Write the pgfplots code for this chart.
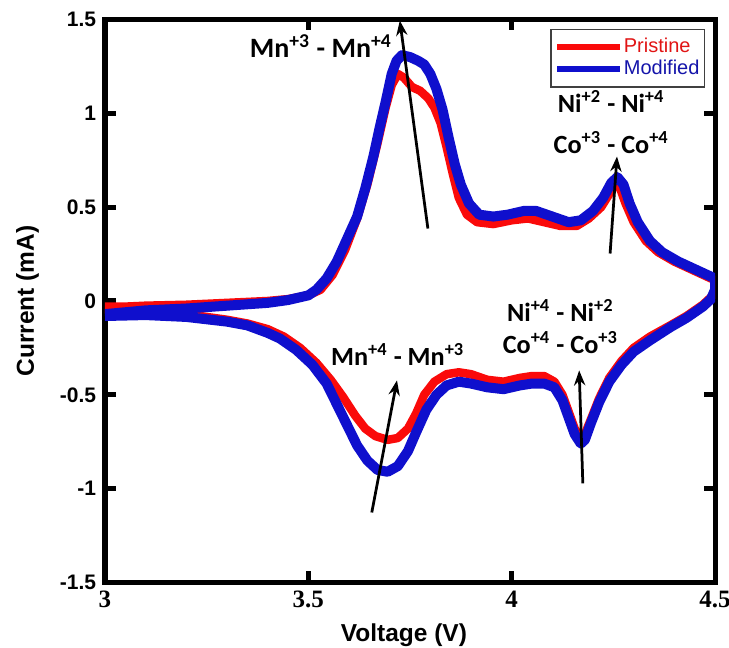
\documentclass[border=0pt]{standalone}
\usepackage{fontspec}
\setmainfont{Liberation Sans}
\newfontfamily\serifbf{Liberation Serif}
\newfontfamily\calib{Carlito}
\usepackage{pgfplots}
\pgfplotsset{compat=1.18}
\usetikzlibrary{arrows.meta}

\definecolor{pred}{RGB}{250,10,10}
\definecolor{pblue}{RGB}{15,15,205}
\definecolor{tred}{RGB}{225,20,20}
\definecolor{tblue}{RGB}{20,20,170}

\begin{document}
\begin{tikzpicture}
\begin{axis}[
    scale only axis,
    width=244pt, height=225.2pt,
    xmin=3, xmax=4.5, ymin=-1.5, ymax=1.5,
    xtick={3,3.5,4,4.5},
    ytick={-1.5,-1,-0.5,0,0.5,1,1.5},
    /pgf/number format/assume math mode=true,
    axis line style={line width=2pt},
    tick style={line width=2pt, black},
    major tick length=4.4pt,
    xticklabel style={font=\fontsize{10}{12}\serifbf\bfseries},
    yticklabel style={font=\fontsize{8.4}{10}\selectfont\bfseries},
    xlabel={Voltage (V)},
    ylabel={Current (mA)},
    xlabel style={at={(axis description cs:0.49,-0.093)}, anchor=center, font=\fontsize{9.8}{12}\selectfont\bfseries},
    ylabel style={at={(axis description cs:-0.127,0.5)}, anchor=center, font=\fontsize{9.8}{12}\selectfont\bfseries},
    legend style={at={(rel axis cs:0.984,0.984)}, anchor=north east,
        draw=black!75, line width=0.6pt, inner sep=1.5pt, row sep=-2.5pt,
        font=\fontsize{8}{9}\selectfont, nodes={inner xsep=0.5pt}},
    legend cell align=left,
    legend image code/.code={\draw[#1, line width=2.2pt] (0pt,0pt) -- (25pt,0pt);},
]
\addplot[pred, line width=3.4pt, line join=round] coordinates {
(3.00,-0.03) (3.05,-0.03) (3.10,-0.025) (3.20,-0.02) (3.30,-0.01) (3.40,0.00)
(3.45,0.01) (3.50,0.03) (3.53,0.06) (3.56,0.14) (3.59,0.27) (3.62,0.44)
(3.645,0.62) (3.67,0.84) (3.69,1.03) (3.705,1.15) (3.72,1.21) (3.735,1.19)
(3.755,1.14) (3.775,1.12) (3.795,1.08) (3.81,1.03) (3.825,0.95) (3.84,0.82)
(3.855,0.68) (3.87,0.55) (3.89,0.46) (3.915,0.42) (3.955,0.41) (4.00,0.43)
(4.04,0.44) (4.08,0.42) (4.12,0.40) (4.16,0.40) (4.19,0.44) (4.22,0.50)
(4.24,0.57) (4.255,0.62) (4.265,0.61) (4.28,0.52) (4.30,0.42) (4.33,0.32)
(4.36,0.26) (4.40,0.21) (4.44,0.17) (4.48,0.13) (4.50,0.11) (4.50,0.05)
(4.49,0.02) (4.47,-0.02) (4.43,-0.08) (4.39,-0.13) (4.34,-0.19) (4.30,-0.25)
(4.27,-0.32) (4.24,-0.41) (4.215,-0.52) (4.195,-0.63) (4.18,-0.71) (4.17,-0.73)
(4.155,-0.68) (4.14,-0.59) (4.125,-0.50) (4.105,-0.43) (4.08,-0.40) (4.05,-0.40)
(4.02,-0.41) (3.98,-0.43) (3.94,-0.42) (3.90,-0.39) (3.87,-0.38) (3.84,-0.39)
(3.81,-0.43) (3.785,-0.50) (3.765,-0.60) (3.745,-0.68) (3.72,-0.73) (3.695,-0.74)
(3.665,-0.72) (3.64,-0.68) (3.615,-0.61) (3.585,-0.51) (3.555,-0.42) (3.52,-0.33)
(3.48,-0.25) (3.44,-0.19) (3.40,-0.15) (3.35,-0.12) (3.30,-0.10) (3.20,-0.07)
(3.10,-0.055) (3.00,-0.045)
};
\addlegendentry{\textcolor{tred}{Pristine}}
\addplot[pblue, line width=4pt, line join=round] coordinates {
(3.00,-0.07) (3.05,-0.06) (3.10,-0.05) (3.20,-0.04) (3.30,-0.025) (3.40,-0.01)
(3.45,0.005) (3.50,0.03) (3.52,0.06) (3.545,0.12) (3.57,0.21) (3.595,0.33)
(3.62,0.45) (3.64,0.60) (3.66,0.77) (3.675,0.92) (3.69,1.06) (3.705,1.21)
(3.717,1.28) (3.73,1.31) (3.75,1.30) (3.77,1.28) (3.785,1.26) (3.80,1.21)
(3.815,1.13) (3.83,1.02) (3.845,0.87) (3.86,0.73) (3.875,0.62) (3.895,0.52)
(3.92,0.46) (3.955,0.45) (3.99,0.46) (4.03,0.48) (4.06,0.48) (4.10,0.45)
(4.14,0.42) (4.17,0.43) (4.20,0.48) (4.225,0.55) (4.245,0.63) (4.26,0.66)
(4.275,0.62) (4.29,0.52) (4.31,0.42) (4.34,0.32) (4.37,0.26) (4.41,0.21)
(4.45,0.17) (4.48,0.14) (4.50,0.12) (4.50,0.06)
(4.49,0.01) (4.47,-0.03) (4.43,-0.09) (4.39,-0.14) (4.34,-0.21) (4.30,-0.27)
(4.27,-0.34) (4.24,-0.43) (4.215,-0.54) (4.195,-0.65) (4.18,-0.74) (4.17,-0.76)
(4.155,-0.71) (4.14,-0.62) (4.125,-0.53) (4.105,-0.46) (4.08,-0.44) (4.05,-0.44)
(4.02,-0.45) (3.98,-0.47) (3.94,-0.46) (3.90,-0.44) (3.87,-0.43) (3.84,-0.45)
(3.815,-0.50) (3.79,-0.58) (3.765,-0.70) (3.745,-0.80) (3.72,-0.88) (3.695,-0.91)
(3.67,-0.90) (3.645,-0.85) (3.62,-0.77) (3.595,-0.66) (3.57,-0.55) (3.545,-0.44)
(3.51,-0.34) (3.47,-0.26) (3.43,-0.20) (3.40,-0.17) (3.35,-0.13) (3.30,-0.11)
(3.20,-0.085) (3.10,-0.075) (3.00,-0.08)
};
\addlegendentry{\textcolor{tblue}{Modified}}

% peak labels and arrows
\begin{scope}[every node/.style={font=\fontsize{10.5}{12}\calib\bfseries, anchor=base, inner sep=0pt}]
\node[font=\fontsize{11.2}{13}\calib\bfseries] at (axis cs:3.531,1.297) {Mn\textsuperscript{+3} - Mn\textsuperscript{+4}};
\node at (axis cs:4.245,1.004) {Ni\textsuperscript{+2} - Ni\textsuperscript{+4}};
\node at (axis cs:4.245,0.787) {Co\textsuperscript{+3} - Co\textsuperscript{+4}};
\node at (axis cs:4.12,-0.108) {Ni\textsuperscript{+4} - Ni\textsuperscript{+2}};
\node at (axis cs:4.12,-0.28) {Co\textsuperscript{+4} - Co\textsuperscript{+3}};
\node at (axis cs:3.72,-0.344) {Mn\textsuperscript{+4} - Mn\textsuperscript{+3}};
\end{scope}
\begin{scope}[line width=1.1pt, -{Stealth[length=6pt,width=4.5pt]}]
\draw (axis cs:3.794,0.386) -- (axis cs:3.725,1.494);
\draw (axis cs:4.242,0.253) -- (axis cs:4.259,0.77);
\draw (axis cs:4.175,-0.972) -- (axis cs:4.166,-0.37);
\draw (axis cs:3.656,-1.127) -- (axis cs:3.718,-0.423);
\end{scope}
\coordinate (sw) at (rel axis cs:0,0);
\coordinate (ne) at (rel axis cs:1,1);
\end{axis}
\pgfresetboundingbox
\path ([shift={(-42pt,-26pt)}]sw) rectangle ([shift={(5.6pt,7.8pt)}]ne);
\end{tikzpicture}
\end{document}
